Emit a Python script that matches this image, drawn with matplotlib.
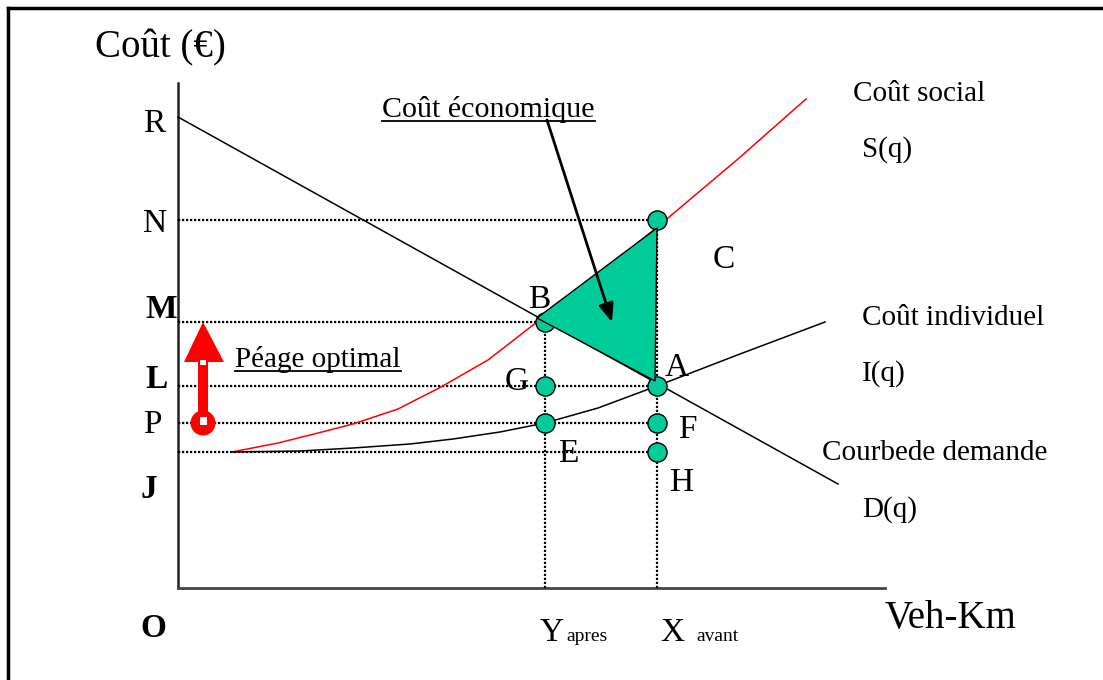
import numpy as np
import matplotlib
matplotlib.use("Agg")
import matplotlib.pyplot as plt
from matplotlib.patches import Polygon, Circle, Rectangle

plt.rcParams['font.family'] = ['Liberation Serif', 'DejaVu Serif']

# quantities (Veh-Km) and cost levels
q_apres = 367
q_avant = 479
levels = {'R': 471, 'N': 368, 'M': 266, 'L': 202, 'P': 165, 'J': 136}

# demand curve D(q)
dem_q = [0, 660]
dem_c = [471, 104]

# social cost S(q)
soc_q = [54, 100, 140, 175, 220, 263, 310, 359, 420, 490, 560, 628]
soc_c = [136, 145, 155, 164, 179, 201, 228, 266, 312, 370, 429, 489]

# individual cost I(q)
ind_q = [54, 122, 175, 232, 275, 322, 367, 420, 479, 562, 647]
ind_c = [136, 137, 140, 144, 149, 156, 165, 180, 202, 234, 266]

# marked points
pt_names = ['N', 'B', 'G', 'A', 'E', 'F', 'H']
pt_q = [479, 367, 367, 479, 367, 479, 479]
pt_c = [368, 266, 202, 202, 165, 165, 136]

# economic cost triangle
tri_q = [359, 479, 477]
tri_c = [270, 360, 207]

green = '#00CC99'

fig = plt.figure(figsize=(11.03, 6.8), dpi=100)
ax = fig.add_axes([0, 0, 1, 1])
ax.set_xlim(-178, 925)
ax.set_ylim(-92, 588)
ax.axis('off')

# outer frame (left and top only visible)
ax.plot([-170, -170], [-92, 580], color='black', lw=2.5, solid_capstyle='projecting')
ax.plot([-170, 925], [580, 580], color='black', lw=2.5, solid_capstyle='projecting')

# axes
ax.plot([0, 0], [0, 505], color='#222222', lw=1.8)
ax.plot([0, 707], [0, 0], color='#444444', lw=2)

# dotted guides
dot = dict(color='black', lw=1.6, ls=(0, (1, 0.8)))
ax.plot([0, q_avant], [levels['N']] * 2, **dot)
ax.plot([0, q_apres], [levels['M']] * 2, **dot)
ax.plot([0, q_avant], [levels['L']] * 2, **dot)
ax.plot([0, q_avant], [levels['P']] * 2, **dot)
ax.plot([0, q_avant], [levels['J']] * 2, **dot)
ax.plot([q_apres] * 2, [0, levels['M']], **dot)
ax.plot([q_avant] * 2, [0, levels['N']], **dot)

# curves
ax.plot(dem_q, dem_c, color='black', lw=1.1)
ax.plot(soc_q, soc_c, color='red', lw=1.1)
ax.plot(ind_q, ind_c, color='black', lw=1.1)

# points
ax.scatter(pt_q, pt_c, s=190, facecolor=green, edgecolor='black', lw=1, zorder=4)

# triangle
ax.add_patch(Polygon(list(zip(tri_q, tri_c)), closed=True, facecolor=green,
                     edgecolor='black', lw=1, zorder=5))

# arrow from "Coût économique"
ax.annotate('', xy=(434, 266), xytext=(369, 468),
            arrowprops=dict(arrowstyle='-|>,head_length=1.1,head_width=0.45',
                            color='black', lw=2, shrinkA=0, shrinkB=0), zorder=6)

# red "péage" arrow
ax.add_patch(Rectangle((20, 165), 10, 62, facecolor='red', edgecolor='none', zorder=3))
ax.add_patch(Polygon([(6, 226), (46, 226), (25, 266)], closed=True,
                     facecolor='red', edgecolor='none', zorder=3))
ax.add_patch(Circle((25, 165), 12.5, facecolor='red', edgecolor='none', zorder=3))
ax.add_patch(Rectangle((22, 223), 6, 5, facecolor='white', edgecolor='none', zorder=4))
ax.add_patch(Rectangle((21.5, 163), 7, 8, facecolor='white', edgecolor='none', zorder=4))

# texts
big = 28
let = 24
lab = 21

ax.text(-83, 531, 'Coût (€)', fontsize=big, va='baseline')
ax.text(707, -40, 'Veh-Km', fontsize=big, va='baseline')

ax.text(-35, 456, 'R', fontsize=let, va='baseline')
ax.text(-35, 356, 'N', fontsize=let, va='baseline')
ax.text(-33, 270, 'M', fontsize=let, va='baseline', fontweight='bold')
ax.text(-33, 200, 'L', fontsize=let, va='baseline', fontweight='bold')
ax.text(-35, 155, 'P', fontsize=let, va='baseline')
ax.text(-38, 90, 'J', fontsize=let, va='baseline', fontweight='bold')
ax.text(-38, -49, 'O', fontsize=let, va='baseline', fontweight='bold')

ax.text(350, 280, 'B', fontsize=let, va='baseline', zorder=7)
ax.text(327, 198, 'G', fontsize=let, va='baseline')
ax.text(487, 212, 'A', fontsize=let, va='baseline')
ax.text(380, 126, 'E', fontsize=let, va='baseline')
ax.text(500, 150, 'F', fontsize=let, va='baseline')
ax.text(492, 97, 'H', fontsize=let, va='baseline')
ax.text(535, 320, 'C', fontsize=let, va='baseline')

t1 = ax.text(204, 471, 'Coût économique', fontsize=21.6, va='baseline')
t2 = ax.text(57, 221, 'Péage optimal', fontsize=lab, va='baseline')

ax.text(675, 487, 'Coût social', fontsize=lab, va='baseline')
ax.text(684, 431, 'S(q)', fontsize=lab, va='baseline')
ax.text(684, 263, 'Coût individuel', fontsize=lab, va='baseline')
ax.text(684, 207, 'I(q)', fontsize=lab, va='baseline')
ax.text(644, 128, 'Courbede demande', fontsize=lab, va='baseline')
ax.text(684, 71, 'D(q)', fontsize=lab, va='baseline')

ax.text(362, -53, 'Y', fontsize=let, va='baseline')
ax.text(388, -53, 'apres', fontsize=14, va='baseline')
ax.text(482, -53, 'X', fontsize=let, va='baseline')
ax.text(518, -53, 'avant', fontsize=14, va='baseline')

# underline the two annotations
fig.canvas.draw()
inv = ax.transData.inverted()
for t in (t1, t2):
    bb = t.get_window_extent()
    x0, _ = inv.transform((bb.x0, bb.y0))
    x1, _ = inv.transform((bb.x1, bb.y0))
    y = t.get_position()[1] - 4
    ax.plot([x0, x1], [y, y], color='black', lw=1.3)

fig.savefig('out.png', dpi=100)
